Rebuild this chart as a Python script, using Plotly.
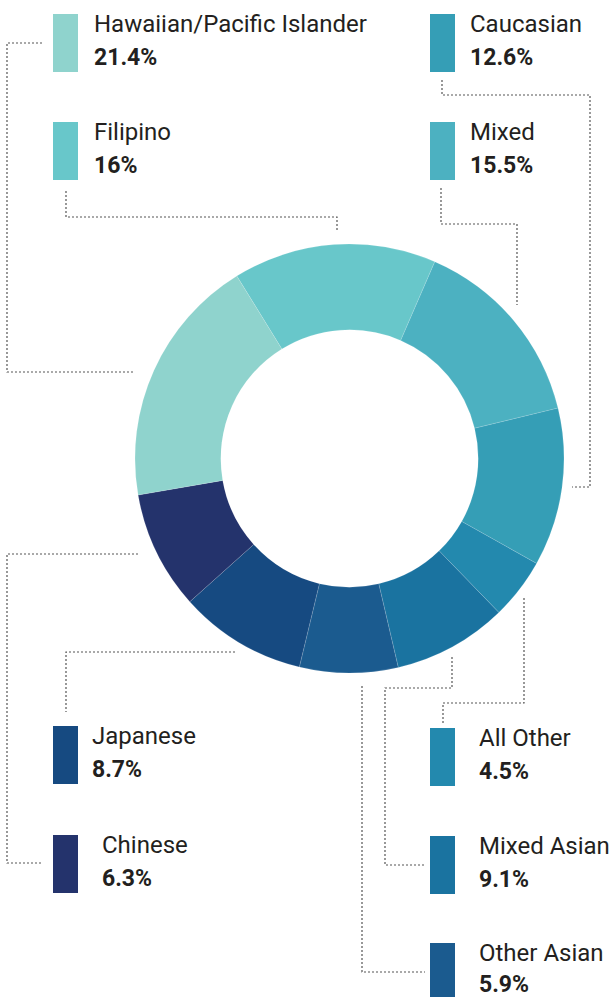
import plotly.graph_objects as go

# ---------------- data ----------------
categories = ["Filipino", "Mixed", "Caucasian", "All Other", "Mixed Asian",
              "Other Asian", "Japanese", "Chinese", "Hawaiian/Pacific Islander"]
# slice shares as drawn in the picture (percent of the ring)
slice_share = [15.3, 14.7, 11.9, 4.6, 8.6, 7.4, 9.6, 8.9, 18.9]
# percentages printed in the labels
label_pct = ["16%", "15.5%", "12.6%", "4.5%", "9.1%", "5.9%", "8.7%", "6.3%", "21.4%"]
colors = ["#68c7ca", "#4cb1c1", "#359eb6", "#2389ae", "#1a73a0",
          "#1b5b8f", "#164a81", "#24336c", "#8fd3cd"]

# ---------------- layout helpers ----------------
W, H = 609, 997
def px(x):
    return x / W
def py(y):
    return 1 - y / H

cx, cy, R = 349.5, 458.5, 214.5

fig = go.Figure()
fig.add_trace(go.Pie(
    labels=categories, values=slice_share, sort=False, direction="clockwise",
    rotation=-31.7, hole=0.6, textinfo="none", hoverinfo="label+percent",
    marker=dict(colors=colors, line=dict(color="rgba(255,255,255,0.35)", width=0.4)),
    domain=dict(x=[px(cx - R), px(cx + R)], y=[py(cy + R), py(cy - R)]),
    showlegend=False,
))

# label block placement: (swatch left x, swatch top y, text x)
label_pos = {
    "Hawaiian/Pacific Islander": (53, 14, 92),
    "Filipino": (53, 122, 92),
    "Caucasian": (430, 14, 468),
    "Mixed": (430, 122, 468),
    "Japanese": (53, 726, 90),
    "Chinese": (53, 835, 100),
    "All Other": (430, 728, 477),
    "Mixed Asian": (430, 836, 477),
    "Other Asian": (430, 943, 477),
}

# leader lines (pixel paths)
leaders = [
    [(42, 43), (7, 43), (7, 372), (134, 372)],
    [(66, 191), (66, 217), (337, 217), (337, 232)],
    [(442, 80), (442, 95), (590, 95), (590, 487), (572, 487)],
    [(441, 188), (441, 224), (517, 224), (517, 305)],
    [(138, 554), (7, 554), (7, 863), (43, 863)],
    [(235, 652), (66, 652), (66, 712)],
    [(524, 598), (524, 703), (443, 703), (443, 723)],
    [(452, 657), (452, 688), (385, 688), (385, 865), (425, 865)],
    [(362, 686), (362, 972), (425, 972)],
]

shapes = []
for pts in leaders:
    path = "M " + " L ".join(f"{px(x):.5f},{py(y):.5f}" for x, y in pts)
    shapes.append(dict(type="path", xref="paper", yref="paper", path=path,
                       line=dict(color="#555555", width=1.2, dash="2px,2px")))

annotations = []
text_color = "#231f20"
for cat, pct, col in zip(categories, label_pct, colors):
    sx, sy, tx = label_pos[cat]
    shapes.append(dict(type="rect", xref="paper", yref="paper",
                       x0=px(sx), x1=px(sx + 25), y0=py(sy + 58), y1=py(sy),
                       fillcolor=col, line=dict(width=0)))
    annotations.append(dict(xref="paper", yref="paper", x=px(tx), y=py(sy + 18 - 8.2),
                            xanchor="left", yanchor="middle", showarrow=False,
                            text=cat, font=dict(family="Roboto", size=24, color=text_color)))
    # keep the bottom-most value fully inside the page
    pct_base = min(sy + 52, H - 4)
    annotations.append(dict(xref="paper", yref="paper", x=px(tx), y=py(pct_base - 8.2),
                            xanchor="left", yanchor="middle", showarrow=False,
                            text=f"<b>{pct}</b>",
                            font=dict(family="Roboto", size=23, color=text_color)))

fig.update_layout(
    width=W, height=H, margin=dict(l=0, r=0, t=0, b=0),
    paper_bgcolor="white", plot_bgcolor="white",
    shapes=shapes, annotations=annotations,
)

fig.write_html("out.html")
